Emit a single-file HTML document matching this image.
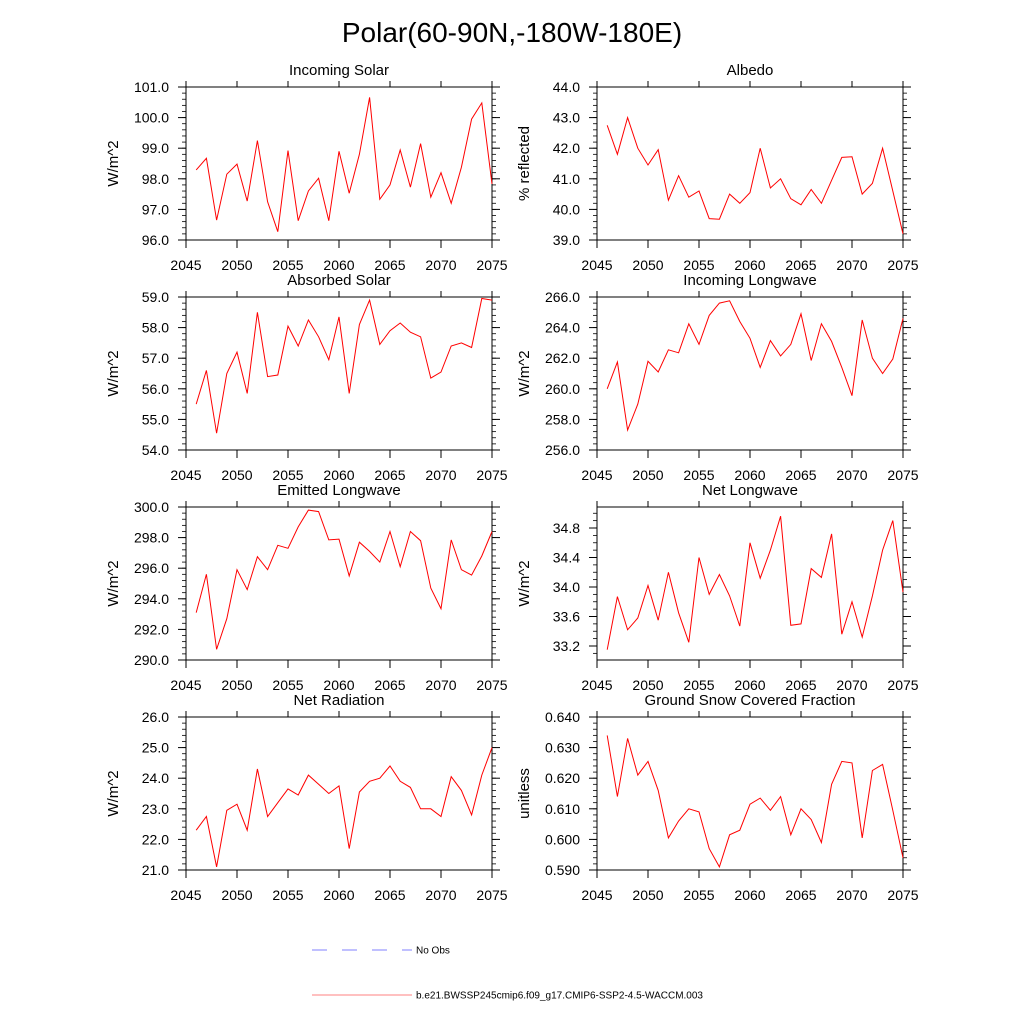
<!DOCTYPE html>
<html><head><meta charset="utf-8"><style>
html,body{margin:0;padding:0;background:#fff;}
svg{display:block;font-family:"Liberation Sans",sans-serif;}
</style></head><body>
<svg id="chart" width="1024" height="1024" viewBox="0 0 1024 1024">
<text x="512" y="42" font-size="28" text-anchor="middle">Polar(60-90N,-180W-180E)</text>
<g id="panels"></g>
<g>
<line x1="312" y1="950" x2="412" y2="950" stroke="#8080ff" stroke-width="1" stroke-dasharray="15,15"/>
<text x="416" y="953.5" font-size="10">No Obs</text>
<line x1="312" y1="995" x2="412" y2="995" stroke="#ff8080" stroke-width="1"/>
<text x="416" y="998.5" font-size="10">b.e21.BWSSP245cmip6.f09_g17.CMIP6-SSP2-4.5-WACCM.003</text>
</g>
</svg>
<script>
const years = [];
for (let y = 2046; y <= 2075; y++) years.push(y);
const xTicks = [2045, 2050, 2055, 2060, 2065, 2070, 2075];
const incomingSolar = [98.29,98.67,96.65,98.15,98.48,97.27,99.25,97.25,96.27,98.92,96.63,97.6,98.02,96.63,98.9,97.53,98.8,100.66,97.33,97.8,98.94,97.73,99.15,97.4,98.2,97.2,98.38,99.95,100.48,97.83];
const albedo = [42.75,41.8,43.0,42.0,41.45,41.95,40.3,41.1,40.4,40.6,39.7,39.68,40.5,40.2,40.55,42.0,40.7,41.0,40.35,40.15,40.65,40.2,40.95,41.7,41.72,40.5,40.85,42.0,40.6,39.2];
const absorbedSolar = [55.5,56.6,54.55,56.5,57.2,55.85,58.5,56.4,56.45,58.05,57.4,58.25,57.7,56.95,58.35,55.85,58.1,58.9,57.45,57.9,58.15,57.85,57.7,56.35,56.55,57.4,57.5,57.35,58.95,58.9];
const incomingLW = [260.0,261.75,257.3,259.0,261.8,261.1,262.55,262.35,264.25,262.9,264.8,265.6,265.75,264.4,263.3,261.4,263.15,262.15,262.9,264.9,261.85,264.25,263.1,261.4,259.55,264.5,262.0,261.0,261.95,264.6];
const emittedLW = [293.1,295.6,290.7,292.7,295.9,294.6,296.75,295.9,297.5,297.3,298.7,299.8,299.7,297.85,297.9,295.5,297.7,297.1,296.4,298.4,296.1,298.4,297.8,294.7,293.35,297.85,295.9,295.55,296.8,298.4];
const netLW = [33.15,33.87,33.42,33.58,34.02,33.55,34.2,33.65,33.25,34.4,33.9,34.17,33.88,33.47,34.6,34.12,34.5,34.96,33.48,33.5,34.25,34.13,34.72,33.36,33.8,33.32,33.88,34.5,34.9,33.93];
const netRad = [22.3,22.75,21.1,22.95,23.15,22.3,24.3,22.75,23.2,23.65,23.45,24.1,23.8,23.5,23.75,21.7,23.55,23.9,24.0,24.4,23.9,23.7,23.0,23.0,22.75,24.05,23.6,22.8,24.1,25.0];
const snowFrac = [0.634,0.614,0.633,0.621,0.6255,0.616,0.6005,0.606,0.610,0.609,0.597,0.591,0.6015,0.603,0.6115,0.6135,0.6095,0.614,0.6015,0.610,0.6065,0.599,0.618,0.6255,0.625,0.6005,0.6225,0.6245,0.6095,0.594];

const panels = [
 {name:'incoming-solar', title:'Incoming Solar', ylab:'W/m^2', data:incomingSolar, col:0,row:0, ymin:96, ymax:101, ticks:[96,97,98,99,100,101], dec:1, minor:0.2},
 {name:'albedo', title:'Albedo', ylab:'% reflected', data:albedo, col:1,row:0, ymin:39, ymax:44, ticks:[39,40,41,42,43,44], dec:1, minor:0.2},
 {name:'absorbed-solar', title:'Absorbed Solar', ylab:'W/m^2', data:absorbedSolar, col:0,row:1, ymin:54, ymax:59, ticks:[54,55,56,57,58,59], dec:1, minor:0.2},
 {name:'incoming-longwave', title:'Incoming Longwave', ylab:'W/m^2', data:incomingLW, col:1,row:1, ymin:256, ymax:266, ticks:[256,258,260,262,264,266], dec:1, minor:0.4},
 {name:'emitted-longwave', title:'Emitted Longwave', ylab:'W/m^2', data:emittedLW, col:0,row:2, ymin:290, ymax:300, ticks:[290,292,294,296,298,300], dec:1, minor:0.4},
 {name:'net-longwave', title:'Net Longwave', ylab:'W/m^2', data:netLW, col:1,row:2, ymin:33.01, ymax:35.085, ticks:[33.2,33.6,34.0,34.4,34.8], dec:1, minor:0.1},
 {name:'net-radiation', title:'Net Radiation', ylab:'W/m^2', data:netRad, col:0,row:3, ymin:21, ymax:26, ticks:[21,22,23,24,25,26], dec:1, minor:0.2},
 {name:'ground-snow', title:'Ground Snow Covered Fraction', ylab:'unitless', data:snowFrac, col:1,row:3, ymin:0.59, ymax:0.64, ticks:[0.59,0.6,0.61,0.62,0.63,0.64], dec:3, minor:0.002}
];
const NS='http://www.w3.org/2000/svg';
const root=document.getElementById('panels');
function mk(tag,attrs,parent){const e=document.createElementNS(NS,tag);for(const k in attrs)e.setAttribute(k,attrs[k]);parent.appendChild(e);return e;}
const colX=[186,597], rowY=[87,297,507,717], W=306, H=153;
panels.forEach(p=>{
 const g=mk('g',{},root);
 
 
 const x0=colX[p.col], y0=rowY[p.row];
 const xs=v=>x0+(v-2045)/30*W;
 const ys=v=>y0+H-(v-p.ymin)/(p.ymax-p.ymin)*H;
 const fr=mk('rect',{x:x0,y:y0,width:W,height:H,fill:'none',stroke:'#000','stroke-width':1},g);
 
 
 const t=mk('text',{x:x0+W/2,y:y0-12,'font-size':15,'text-anchor':'middle'},g);
 t.textContent=p.title;
 
 
 const yl=mk('text',{x:0,y:0,'font-size':15,'text-anchor':'middle',transform:`translate(${x0-68},${y0+H/2}) rotate(-90)`},g);
 yl.textContent=p.ylab;
 
 
 xTicks.forEach(v=>{
  const X=xs(v);
  mk('line',{x1:X,y1:y0+H,x2:X,y2:y0+H+8,stroke:'#000'},g);
  mk('line',{x1:X,y1:y0,x2:X,y2:y0-6,stroke:'#000'},g);
  const tl=mk('text',{x:X,y:y0+H+30,'font-size':14,'text-anchor':'middle'},g);
  tl.textContent=v;
  
  
 });
 for(let v=Math.ceil(p.ymin/p.minor-1e-6)*p.minor; v<=p.ymax+1e-9; v+=p.minor){
  const Y=ys(v);
  mk('line',{x1:x0,y1:Y,x2:x0-4,y2:Y,stroke:'#000','stroke-width':0.8},g);
  mk('line',{x1:x0+W,y1:Y,x2:x0+W+4,y2:Y,stroke:'#000','stroke-width':0.8},g);
 }
 p.ticks.forEach(v=>{
  const Y=ys(v);
  mk('line',{x1:x0,y1:Y,x2:x0-8,y2:Y,stroke:'#000'},g);
  mk('line',{x1:x0+W,y1:Y,x2:x0+W+8,y2:Y,stroke:'#000'},g);
  const tl=mk('text',{x:x0-17,y:Y+5,'font-size':14,'text-anchor':'end'},g);
  tl.textContent=v.toFixed(p.dec);
  
  
 });
 const pts=p.data.map((v,i)=>xs(years[i]).toFixed(1)+','+ys(v).toFixed(1)).join(' ');
 const ln=mk('polyline',{points:pts,fill:'none',stroke:'#ff0000','stroke-width':1},g);
 
 
});
</script>
</body></html>
